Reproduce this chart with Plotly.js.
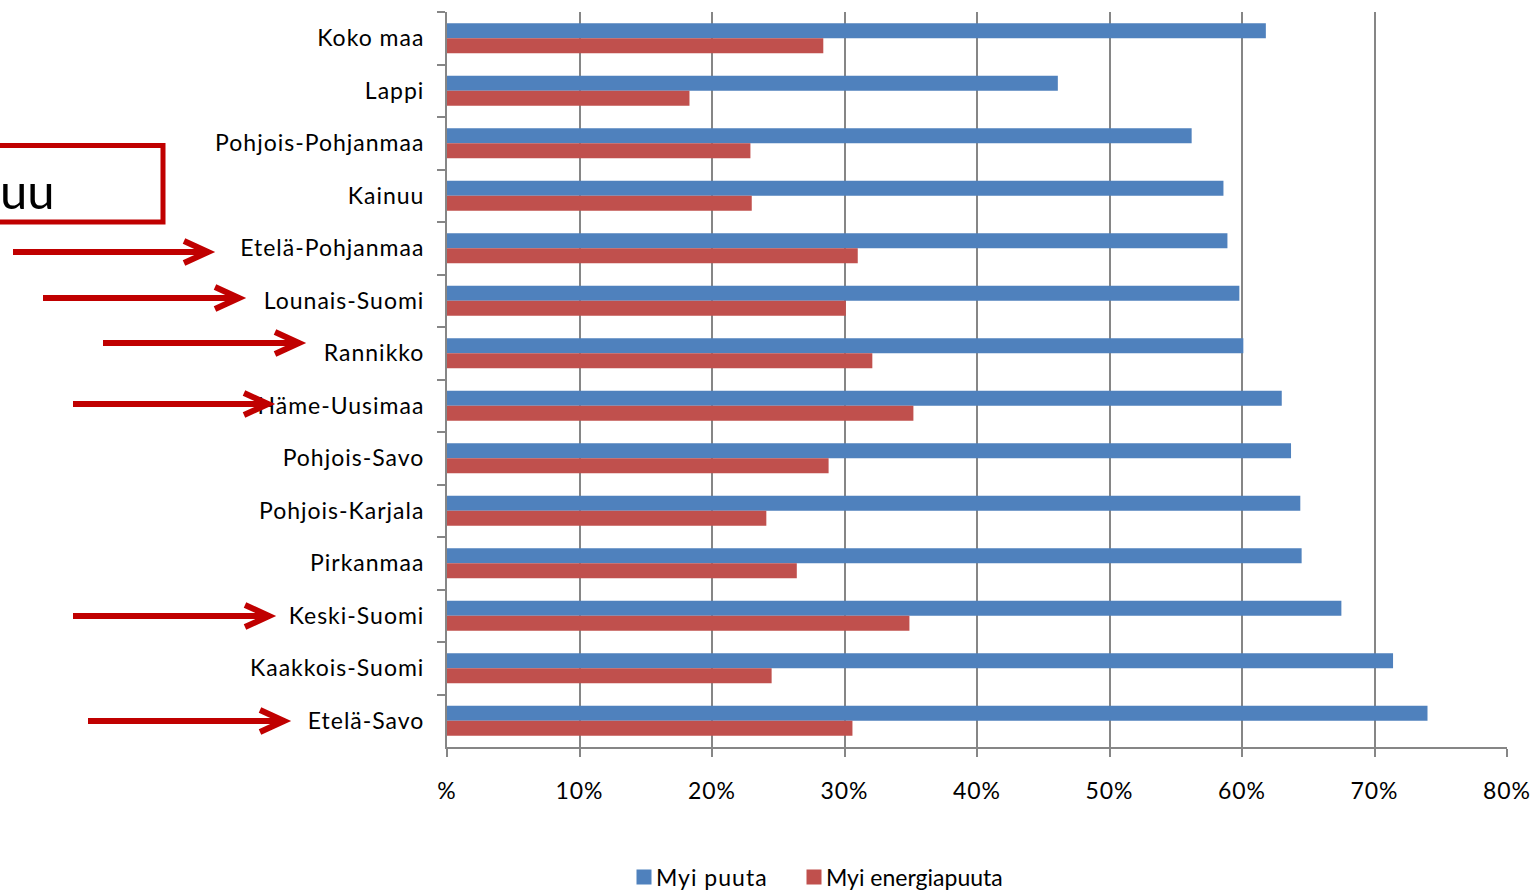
<!DOCTYPE html>
<html>
<head>
<meta charset="utf-8">
<script src="https://cdn.plot.ly/plotly-3.0.1.min.js"></script>
<style>
  html, body { margin: 0; padding: 0; background: #ffffff; }
  #chart { width: 1534px; height: 890px; }
  #chart .ytick text, #chart .xtick text, #chart .legendtext { letter-spacing: 1px; }
  #chart .legendpoints path { transform: translate(28px, 0px) scale(1.25); }
</style>
</head>
<body>
<div id="chart"></div>
<script>
// ---- data ----
const regions = [
  "Koko maa", "Lappi", "Pohjois-Pohjanmaa", "Kainuu", "Etelä-Pohjanmaa",
  "Lounais-Suomi", "Rannikko", "Häme-Uusimaa", "Pohjois-Savo", "Pohjois-Karjala",
  "Pirkanmaa", "Keski-Suomi", "Kaakkois-Suomi", "Etelä-Savo"
];
const myiPuuta = [61.8, 46.1, 56.2, 58.6, 58.9, 59.8, 60.1, 63.0, 63.7, 64.4, 64.5, 67.5, 71.4, 74.0];
const myiEnergiapuuta = [28.4, 18.3, 22.9, 23.0, 31.0, 30.1, 32.1, 35.2, 28.8, 24.1, 26.4, 34.9, 24.5, 30.6];
const seriesNames = ["Myi puuta", "Myi energiapuuta"];
const tickValues = [0, 10, 20, 30, 40, 50, 60, 70, 80];
const tickLabels = ["%", "10%", "20%", "30%", "40%", "50%", "60%", "70%", "80%"];

// ---- layout helpers (pixel -> paper) ----
const W = 1534, H = 890;
const M = { l: 447, r: 27, t: 12, b: 143, autoexpand: false };
const PW = W - M.l - M.r, PH = H - M.t - M.b;
const px = x => (x - M.l) / PW;
const py = y => (H - M.b - y) / PH;

const RED = "#C00000";
const GRID = "#868686";
const FONT = "Lato, 'Open Sans', sans-serif";

// highlighted-region arrows (annotation graphics, pixel positions)
const arrows = [
  { y: 252, x0: 13, x1: 208 },
  { y: 298, x0: 43, x1: 239 },
  { y: 343, x0: 103, x1: 299 },
  { y: 404, x0: 73, x1: 268 },
  { y: 616, x0: 73, x1: 269 },
  { y: 721, x0: 88, x1: 284 }
];

const shapes = [];
arrows.forEach(a => {
  shapes.push({
    type: "line", xref: "paper", yref: "paper",
    x0: px(a.x0), x1: px(a.x1 - 4), y0: py(a.y), y1: py(a.y),
    line: { color: RED, width: 6 }
  });
  shapes.push({
    type: "path", xref: "paper", yref: "paper",
    path: `M ${px(a.x1 - 24)} ${py(a.y - 11)} L ${px(a.x1)} ${py(a.y)} L ${px(a.x1 - 24)} ${py(a.y + 11)}`,
    line: { color: RED, width: 6 }
  });
});
shapes.push({
  type: "rect", xref: "paper", yref: "paper",
  x0: px(-10), x1: px(163), y0: py(222), y1: py(145.5),
  line: { color: RED, width: 5 }
});

const annotations = [{
  xref: "paper", yref: "paper", x: px(-2), y: py(190),
  xanchor: "left", yanchor: "middle", showarrow: false,
  text: "uu", font: { family: FONT, size: 49, color: "#000000" }
}];

const traces = [
  {
    type: "bar", orientation: "h", name: seriesNames[0],
    y: regions, x: myiPuuta, legend: "legend",
    marker: { color: "#4F81BD" }, hoverinfo: "x+y"
  },
  {
    type: "bar", orientation: "h", name: seriesNames[1],
    y: regions, x: myiEnergiapuuta, legend: "legend2",
    marker: { color: "#C0504D" }, hoverinfo: "x+y"
  }
];

const legendBase = {
  orientation: "h", xanchor: "left", yanchor: "middle",
  font: { family: FONT, size: 23, color: "#000000" },
  entrywidth: 200, entrywidthmode: "pixels",
  bgcolor: "rgba(0,0,0,0)"
};

const layout = {
  width: W, height: H,
  margin: M,
  paper_bgcolor: "#ffffff", plot_bgcolor: "#ffffff",
  font: { family: FONT, size: 23, color: "#000000" },
  barmode: "group", bargap: 0.43, bargroupgap: 0,
  showlegend: true,
  legend: Object.assign({}, legendBase, { x: px(616), y: py(877) }),
  legend2: Object.assign({}, legendBase, { x: px(786), y: py(877) }),
  xaxis: {
    range: [0, 80], tickmode: "array", tickvals: tickValues, ticktext: tickLabels,
    showgrid: true, gridcolor: GRID, gridwidth: 2,
    zeroline: false, showline: true, linecolor: GRID, linewidth: 2,
    ticks: "outside", ticklen: 8, tickwidth: 2, tickcolor: GRID,
    ticklabelstandoff: 14,
    tickfont: { family: FONT, size: 23, color: "#000000" },
    fixedrange: true
  },
  yaxis: {
    type: "category", categoryorder: "array", categoryarray: regions,
    autorange: "reversed",
    showgrid: false, zeroline: false,
    showline: true, linecolor: GRID, linewidth: 2,
    ticks: "outside", tickson: "boundaries", ticklen: 8, tickwidth: 2, tickcolor: GRID,
    ticklabelstandoff: 16,
    tickfont: { family: FONT, size: 23, color: "#000000" },
    fixedrange: true
  },
  shapes: shapes,
  annotations: annotations
};

Plotly.newPlot("chart", traces, layout, { displayModeBar: false, staticPlot: true });
</script>
</body>
</html>
